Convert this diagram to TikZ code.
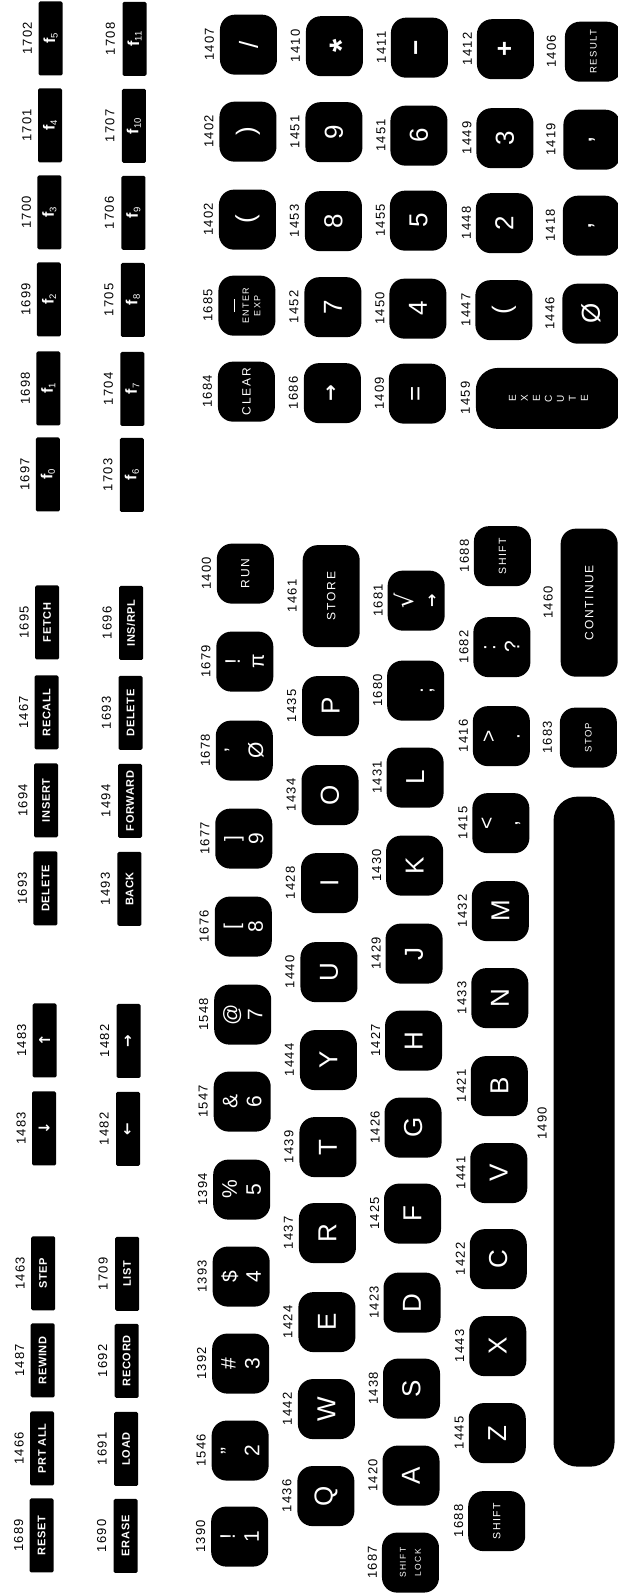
\documentclass[tikz,border=0pt]{standalone}
\usepackage{fontspec}
\setmainfont{Liberation Sans}
\newfontfamily\numfont[LetterSpace=10]{Liberation Sans}
\newfontfamily\capfont[LetterSpace=15]{Liberation Sans}
\newfontfamily\fkeyfont[LetterSpace=6]{Liberation Sans}
\newfontfamily\symfont{DejaVu Sans}

\newcommand\kbig{\fontsize{26}{28}\selectfont}
\newcommand\kpair{\fontsize{21}{24}\selectfont}
\newcommand\kcap[1]{\capfont\fontsize{#1}{#1}\selectfont}
\newcommand\fk[1]{\fontsize{16}{16}\selectfont f\raisebox{-2.5pt}{\mdseries\fontsize{9.5}{9.5}\selectfont#1}}
\newcommand\farrow[1]{{\symfont\fontsize{15}{15}\selectfont#1}}
\newcommand\kstar{\raisebox{-19pt}[0pt][0pt]{\bfseries\fontsize{34}{34}\selectfont*}}

\begin{document}
\begin{tikzpicture}[x=1pt,y=-1pt,
  key/.style={fill=black,text=white,rounded corners=15pt,rotate=90,
              minimum width=60pt,minimum height=57pt,inner sep=0pt,
              align=center,font=\kbig},
  pair/.style={key,font=\kpair},
  capkey/.style={key,font=\kcap{12}},
  fkey/.style={fill=black,text=white,rounded corners=1.5pt,rotate=90,
               minimum width=74pt,minimum height=24pt,inner sep=0pt,
               font={\fkeyfont\fontsize{11}{12}\selectfont\bfseries}},
  num/.style={rotate=90,inner sep=0pt,
              font={\numfont\fontsize{13}{15}\selectfont}}
]
\useasboundingbox (0,0) rectangle (618,1595);
\clip (0,0) rectangle (618,1595);
\begin{scope}[rotate around={-0.34:(309,800)}]

% special function keys, first row
\foreach \y/\n/\t [count=\i] in {1537/1689/RESET, 1450/1466/PRT ALL,
    1362/1487/REWIND, 1275/1463/STEP, 1130/1483/{\farrow{↓}},
    1042/1483/{\farrow{↑}}, 890/1693/DELETE, 802/1694/INSERT,
    714/1467/RECALL, 624/1695/FETCH, 476/1697/{\fk{0}}, 390/1698/{\fk{1}},
    301/1699/{\fk{2}}, 214/1700/{\fk{3}}, 127/1701/{\fk{4}}, 40/1702/{\fk{5}}}
  {\node[fkey] (fa\i) at (46,\y) {\t};
   \node[num] (fan\i) at (23,\y) {\n};}

% special function keys, second row
\foreach \y/\n/\t [count=\i] in {1537/1690/ERASE, 1450/1691/LOAD,
    1362/1692/RECORD, 1275/1709/LIST, 1130/1482/{\farrow{←}},
    1042/1482/{\farrow{→}}, 890/1493/BACK, 802/1494/FORWARD,
    714/1693/DELETE, 624/1696/{INS/RPL}, 476/1703/{\fk{6}}, 390/1704/{\fk{7}},
    301/1705/{\fk{8}}, 214/1706/{\fk{9}}, 127/1707/{\fk{10}}, 40/1708/{\fk{11}}}
  {\node[fkey] (fb\i) at (130,\y) {\t};
   \node[num] (fbn\i) at (106,\y) {\n};}

% number row
\foreach \y/\n/\t [count=\i] in {1537/1390/{!\\1}, 1451/1546/{"\\2},
    1364/1392/{\#\\3}, 1277/1393/{\$\\4}, 1190/1394/{\%\\5},
    1102/1547/{\&\\6}, 1015/1548/{@\\7}, 927/1676/{[\\8}, 839/1677/{]\\9},
    751/1678/{’\\Ø}, 662/1679/{!\\π}}
  {\node[pair] (ak\i) at (244,\y) {\t};
   \node[num] (an\i) at (205,\y) {\n};}
\node[capkey] (run) at (244,574) {RUN};
\node[num] (runn) at (205,574) {1400};

% Q row
\foreach \y/\n/\t [count=\i] in {1496/1436/Q, 1409/1442/W, 1322/1424/E,
    1233/1437/R, 1147/1439/T, 1060/1444/Y, 972/1440/U, 883/1428/I,
    795/1434/O, 706/1435/P}
  {\node[key] (bk\i) at (330,\y) {\t};
   \node[num] (bn\i) at (291,\y) {\n};}
\node[capkey,minimum width=102pt] (store) at (330,596) {STORE};
\node[num] (storen) at (291,596) {1461};

% A row
\node[key,font={\capfont\fontsize{8.5}{15}\selectfont}]
  (lock) at (415,1562) {SHIFT\\LOCK};
\node[num] (lockn) at (377,1562) {1687};
\foreach \y/\n/\t [count=\i] in {1475/1420/A, 1388/1438/S, 1302/1423/D,
    1213/1425/F, 1127/1426/G, 1040/1427/H, 953/1429/J, 865/1430/K,
    777/1431/L}
  {\node[key] (ck\i) at (415,\y) {\t};
   \node[num] (cn\i) at (377,\y) {\n};}
\node[pair] (semi) at (415,690) {\phantom{:}\\;};
\node[num] (semin) at (377,690) {1680};
\node[pair] (root) at (415,600)
  {{\symfont\fontsize{24}{24}\selectfont √}\\{\symfont\bfseries\fontsize{16}{24}\selectfont →}};
\node[num] (rootn) at (377,600) {1681};

% Z row
\node[key,font=\kcap{10.5}] (lshift) at (501,1520) {SHIFT};
\node[num] (lshiftn) at (463,1520) {1688};
\foreach \y/\n/\t [count=\i] in {1432/1445/Z, 1345/1443/X, 1258/1422/C,
    1172/1441/V, 1085/1421/B, 997/1433/N, 910/1432/M}
  {\node[key] (dk\i) at (501,\y) {\t};
   \node[num] (dn\i) at (463,\y) {\n};}
\foreach \y/\n/\t [count=\i] in {822/1415/{<\\,}, 735/1416/{>\\.},
    646/1682/{:\\?}}
  {\node[pair] (dp\i) at (501,\y) {\t};
   \node[num] (dpn\i) at (463,\y) {\n};}
\node[key,font=\kcap{10.5}] (rshift) at (501,555) {SHIFT};
\node[num] (rshiftn) at (463,555) {1688};

% space bar row
\node[key,minimum width=670pt,minimum height=61pt,rounded corners=24pt]
  (space) at (586,1130) {};
\node[num] (spacen) at (544,1122) {1490};
\node[key,font=\kcap{9.5}] (stop) at (588,736) {STOP};
\node[num] (stopn) at (547,736) {1683};
\node[capkey,minimum width=148pt] (cont) at (588,601) {CONTINUE};
\node[num] (contn) at (547,601) {1460};

% numeric pad
\node[capkey] (clear) at (244,392) {CLEAR};
\node[num] (clearn) at (205,392) {1684};
\node[key,font={\capfont\fontsize{9}{11.5}\selectfont}] (enter) at (244,306)
  {\rule[2.5pt]{13pt}{1.2pt}\\ENTER\\EXP};
\node[num] (entern) at (205,306) {1685};
\foreach \y/\n/\t [count=\i] in {220/1402/(, 132/1402/), 45/1407/{/}}
  {\node[key] (pa\i) at (244,\y) {\t};
   \node[num] (pan\i) at (205,\y) {\n};}

\node[key,font={\symfont\bfseries\fontsize{20}{20}\selectfont}] (up) at (330,393) {→};
\node[num] (upn) at (291,393) {1686};
\foreach \y/\n/\t [count=\i] in {307/1452/7, 221/1453/8, 132/1451/9,
    46/1410/\kstar}
  {\node[key] (pb\i) at (330,\y) {\t};
   \node[num] (pbn\i) at (291,\y) {\n};}

\foreach \y/\n/\t [count=\i] in {393/1409/=, 308/1450/4, 220/1455/5,
    135/1451/6, 47/1411/{\bfseries −}}
  {\node[key] (pc\i) at (415,\y) {\t};
   \node[num] (pcn\i) at (377,\y) {\n};}

\node[key,minimum width=61pt,minimum height=145pt,rounded corners=22pt,
      font={\fontsize{10}{12}\selectfont}] (exec) at (546,397)
  {E\\X\\E\\C\\U\\T\\E};
\node[num] (execn) at (463,397) {1459};
\foreach \y/\n/\t [count=\i] in {309/1447/(, 222/1448/2, 137/1449/3,
    48/1412/{\bfseries +}}
  {\node[key] (pd\i) at (501,\y) {\t};
   \node[num] (pdn\i) at (463,\y) {\n};}

\foreach \y/\n/\t [count=\i] in {312/1446/Ø, 224/1418/{,}, 138/1419/{,}}
  {\node[key] (pe\i) at (588,\y) {\t};
   \node[num] (pen\i) at (547,\y) {\n};}
\node[key,font=\kcap{9.5}] (result) at (589,50) {RESULT};
\node[num] (resultn) at (547,50) {1406};

\end{scope}
\end{tikzpicture}
\end{document}
